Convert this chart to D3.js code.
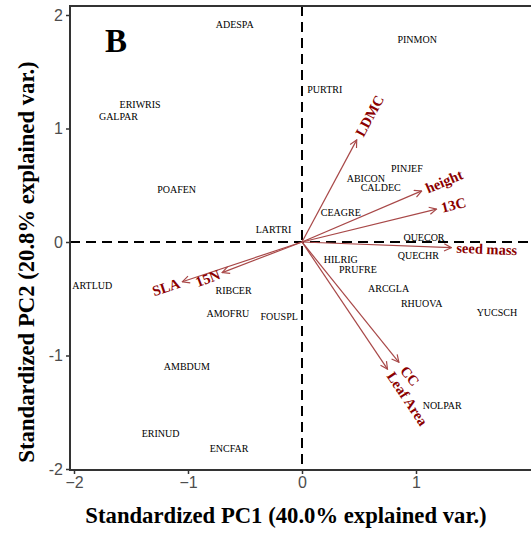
<!DOCTYPE html>
<html><head><meta charset="utf-8">
<script src="https://cdn.jsdelivr.net/npm/d3@7"></script>
<style>body{margin:0;background:#fff}svg{display:block}</style>
</head><body>
<svg id="chart" width="531" height="535"></svg>
<script>
const species = ["ADESPA","PINMON","PURTRI","ERIWRIS","GALPAR","POAFEN","PINJEF","ABICON","CALDEC","CEAGRE","LARTRI","QUECOR","QUECHR","HILRIG","PRUFRE","ARCGLA","RHUOVA","YUCSCH","ARTLUD","RIBCER","AMOFRU","FOUSPL","AMBDUM","NOLPAR","ERINUD","ENCFAR"];
const pc1 = [-0.59,1.01,0.20,-1.42,-1.61,-1.10,0.92,0.56,0.69,0.34,-0.25,1.07,1.02,0.34,0.49,0.76,1.05,1.71,-1.84,-0.60,-0.65,-0.20,-1.01,1.23,-1.24,-0.64];
const pc2 = [1.92,1.78,1.34,1.21,1.11,0.46,0.65,0.56,0.48,0.26,0.11,0.04,-0.12,-0.15,-0.24,-0.41,-0.54,-0.62,-0.38,-0.43,-0.63,-0.66,-1.10,-1.44,-1.69,-1.82];

const traits = ["LDMC","height","13C","seed mass","CC","Leaf Area","SLA","15N"];
const load1 = [0.48,1.05,1.18,1.31,0.85,0.75,-1.05,-0.70];
const load2 = [0.90,0.45,0.29,-0.05,-1.06,-1.12,-0.35,-0.27];

const xTicks = [-2,-1,0,1];
const xTickLabels = ["\u22122","\u22121","0","1"];
const yTicks = [-2,-1,0,1,2];
const yTickLabels = ["-2","-1","0","1","2"];

const svg = d3.select("#chart");
const x = d3.scaleLinear().domain([-2,2]).range([74,530]);
const y = d3.scaleLinear().domain([-2,2]).range([469,15]);
const L = 70, T = 6, R = 560, B = 470;
const serif = "'Liberation Serif','Times New Roman',serif";
const sans = "'Liberation Sans',Arial,sans-serif";

// zero lines
svg.append("line").attr("x1",L).attr("x2",R).attr("y1",y(0)).attr("y2",y(0))
  .attr("stroke","#000").attr("stroke-width",2).attr("stroke-dasharray","10,6");
svg.append("line").attr("x1",x(0)).attr("x2",x(0)).attr("y1",T).attr("y2",B)
  .attr("stroke","#000").attr("stroke-width",2).attr("stroke-dasharray","10,6");

// panel border
svg.append("rect").attr("x",L).attr("y",T).attr("width",R-L).attr("height",B-T)
  .attr("fill","none").attr("stroke","#333").attr("stroke-width",2);

// axes
const xa = svg.append("g").attr("transform",`translate(0,${B})`)
  .call(d3.axisBottom(x).tickValues(xTicks).tickFormat((d,i)=>xTickLabels[i]).tickSize(4).tickPadding(3));
const ya = svg.append("g").attr("transform",`translate(${L},0)`)
  .call(d3.axisLeft(y).tickValues(yTicks).tickFormat((d,i)=>yTickLabels[i]).tickSize(4).tickPadding(3));
[xa,ya].forEach(a=>{
  a.select(".domain").remove();
  a.selectAll(".tick line").attr("stroke","#333").attr("stroke-width",1.5);
  a.selectAll(".tick text").attr("fill","#4d4d4d").style("font-family",sans).style("font-size","16px");
});

// species labels
svg.append("g").selectAll("text").data(species).join("text")
  .attr("x",(d,i)=>x(pc1[i])).attr("y",(d,i)=>y(pc2[i]))
  .attr("text-anchor","middle").attr("dominant-baseline","central")
  .style("font-family",serif).style("font-size","10px").attr("fill","#000")
  .text(d=>d);

// arrows
const defs = svg.append("defs");
defs.append("marker").attr("id","ah").attr("viewBox","0 0 10 10").attr("refX",9).attr("refY",5)
  .attr("markerWidth",9).attr("markerHeight",9).attr("markerUnits","userSpaceOnUse").attr("orient","auto")
  .append("path").attr("d","M1,1 L9,5 L1,9").attr("fill","none").attr("stroke","#a84848").attr("stroke-width",1.3);

const ag = svg.append("g");
traits.forEach((t,i)=>{
  ag.append("line").attr("x1",x(0)).attr("y1",y(0)).attr("x2",x(load1[i])).attr("y2",y(load2[i]))
    .attr("stroke","#a84848").attr("stroke-width",1.2).attr("marker-end","url(#ah)");
});
traits.forEach((t,i)=>{
  const tx = x(load1[i]), ty = y(load2[i]);
  const dx = tx - x(0), dy = ty - y(0);
  const ang = Math.atan(dy/dx)*180/Math.PI;
  const pos = dx > 0;
  ag.append("text").attr("transform",`translate(${tx},${ty}) rotate(${ang})`)
    .attr("x", pos ? (t==="CC" ? 7 : 5) : -3).attr("y",0)
    .attr("text-anchor", pos ? "start" : "end").attr("dominant-baseline","central")
    .style("font-family",serif).style("font-size","14.5px").style("font-weight","bold")
    .attr("fill","#8b0000").text(t);
});

// panel letter
svg.append("text").attr("x",105).attr("y",52).text("B")
  .style("font-family",serif).style("font-weight","bold").style("font-size","33px").attr("fill","#000");

// axis titles
svg.append("text").attr("x",286).attr("y",523).attr("text-anchor","middle")
  .style("font-family",serif).style("font-weight","bold").style("font-size","22.7px")
  .text("Standardized PC1 (40.0% explained var.)");
svg.append("text").attr("transform","translate(34,262) rotate(-90)").attr("text-anchor","middle")
  .style("font-family",serif).style("font-weight","bold").style("font-size","22.7px")
  .text("Standardized PC2 (20.8% explained var.)");
</script>
</body></html>
